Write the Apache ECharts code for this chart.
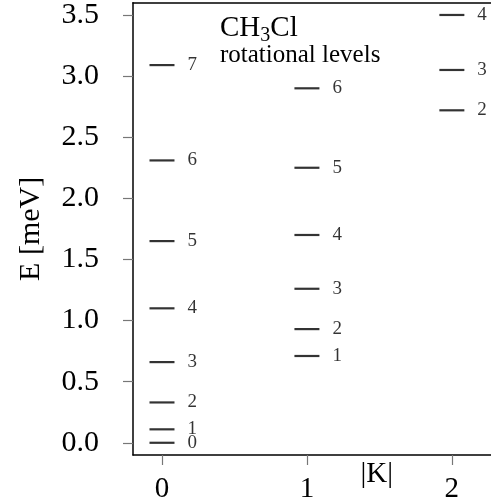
<!DOCTYPE html>
<html>
<head>
<meta charset="utf-8">
<script src="https://cdn.jsdelivr.net/npm/echarts@6/dist/echarts.min.js"></script>
<style>html,body{margin:0;padding:0;background:#fff}#c{width:491px;height:504px}</style>
</head>
<body>
<div id="c"></div>
<script>
// K values (|K|) and energies (meV) of rotational levels, J quantum numbers
const kValues = [0, 1, 2];
const levelsK0 = [0.00, 0.11, 0.33, 0.66, 1.10, 1.65, 2.31, 3.09];
const jK0 = [0, 1, 2, 3, 4, 5, 6, 7];
const levelsK1 = [0.71, 0.93, 1.26, 1.70, 2.25, 2.90];
const jK1 = [1, 2, 3, 4, 5, 6];
const levelsK2 = [2.72, 3.05, 3.50];
const jK2 = [2, 3, 4];
const yTicks = [0, 0.5, 1.0, 1.5, 2.0, 2.5, 3.0, 3.5];
const xTicks = [0, 1, 2];

const F = 'Liberation Serif';
const data = [];
[[levelsK0, jK0], [levelsK1, jK1], [levelsK2, jK2]].forEach((pair, i) => {
  pair[0].forEach((e, idx) => data.push([kValues[i], e, pair[1][idx]]));
});

const chart = echarts.init(document.getElementById('c'), null, {renderer: 'canvas'});
chart.setOption({
  animation: false,
  backgroundColor: '#fff',
  title: {
    text: '{n|CH}{sub|3}{n|Cl}',
    subtext: 'rotational levels',
    left: 215, top: 9,
    itemGap: -3,
    textStyle: {fontFamily: F, fontSize: 29, fontWeight: 'normal', color: '#000',
      rich: {
        n: {fontFamily: F, fontSize: 29, color: '#000', verticalAlign: 'top', lineHeight: 29},
        sub: {fontFamily: F, fontSize: 20, color: '#000', verticalAlign: 'top', lineHeight: 20, padding: [12, 0, 0, 0]}
      }},
    subtextStyle: {fontFamily: F, fontSize: 25, color: '#000'}
  },
  grid: {left: 133, right: 0, top: 2, bottom: 48},
  xAxis: [{
    type: 'value', min: -0.2, max: 2.27,
    splitLine: {show: false},
    axisLine: {onZero: false, lineStyle: {color: '#000', width: 1.5}},
    axisTick: {length: 10, lineStyle: {color: '#777', width: 1.2}, customValues: xTicks},
    axisLabel: {customValues: xTicks, fontFamily: F, fontSize: 29, color: '#000', margin: 20,
      formatter: v => String(v)}
  }, {
    type: 'value', position: 'top', min: -0.2, max: 2.27,
    splitLine: {show: false},
    axisLine: {onZero: false, lineStyle: {color: '#000', width: 1.5}},
    axisTick: {show: false}, axisLabel: {show: false}
  }],
  yAxis: {
    type: 'value', min: -0.1, max: 3.6,
    name: 'E [meV]', nameLocation: 'middle', nameGap: 87, nameRotate: 90,
    nameTextStyle: {fontFamily: F, fontSize: 30, color: '#000'},
    splitLine: {show: false},
    axisLine: {onZero: false, lineStyle: {color: '#000', width: 1.5}},
    axisTick: {length: 10, lineStyle: {color: '#777', width: 1.2}, customValues: yTicks},
    axisLabel: {customValues: yTicks, fontFamily: F, fontSize: 30, color: '#000', margin: 34,
      formatter: v => v.toFixed(1)}
  },
  series: [{
    type: 'scatter',
    data: data,
    symbol: 'rect',
    symbolSize: [25, 2.2],
    itemStyle: {color: '#000'},
    label: {show: true, position: 'right', distance: 13, fontFamily: F, fontSize: 19, color: '#000',
      formatter: p => String(p.value[2])}
  }]
});
const kPos = chart.convertToPixel({xAxisIndex: 0}, 1.5);
chart.setOption({
  graphic: [{type: 'text', left: kPos - 19, top: 460,
    style: {text: '|K|', fontFamily: F, fontSize: 29, fill: '#000'}}]
});
</script>
</body>
</html>
